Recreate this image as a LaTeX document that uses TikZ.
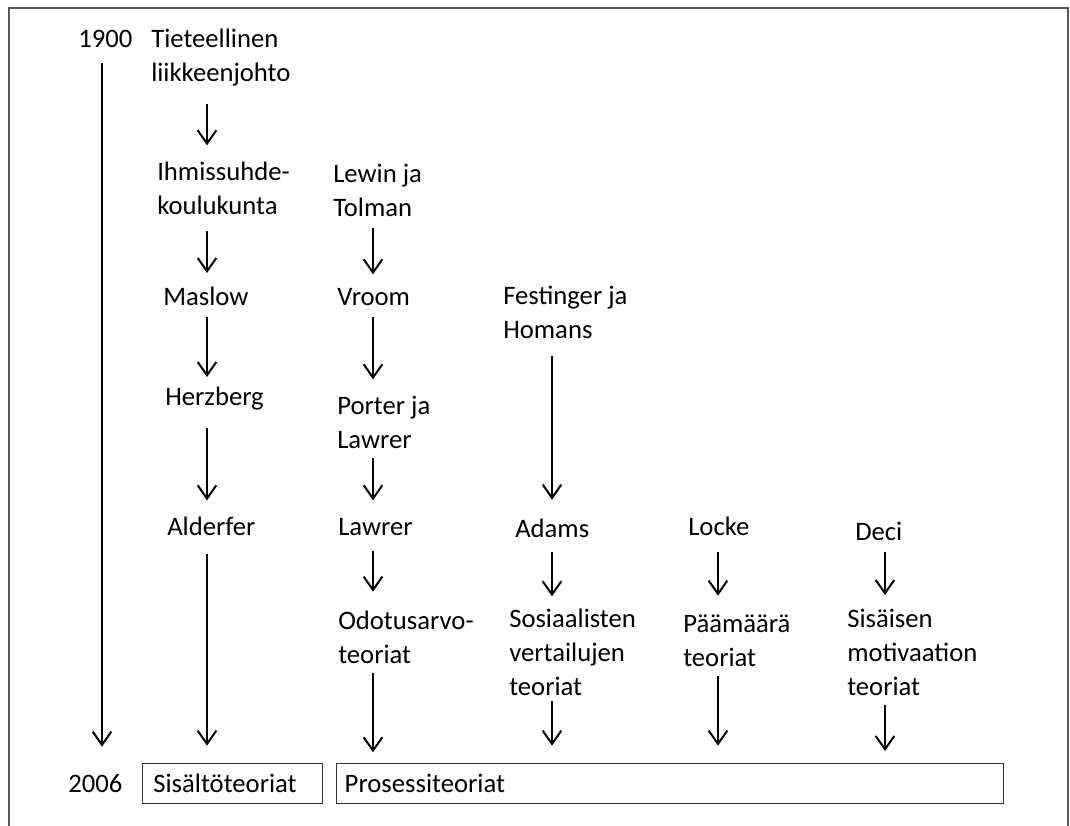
\documentclass[tikz,border=0pt]{standalone}
\usepackage{fontspec}
\setmainfont{Carlito}
\usetikzlibrary{arrows.meta}

\begin{document}
\begin{tikzpicture}[x=0.75pt,y=-0.75pt,
    lbl/.style={anchor=north west, inner sep=0pt, align=left,
      font=\fontsize{20}{25.5}\selectfont,
      execute at begin node=\strut, execute at end node=\strut},
    arr/.style={-{Straight Barb[length=10pt,width=14pt,line width=1.5pt]}, line width=1.5pt},
    era/.style={draw=black!80, line width=1.1pt, anchor=north west, inner ysep=0pt,
      minimum height=30pt, font=\fontsize{20}{25.5}\selectfont}]
  \useasboundingbox (0,0) rectangle (1070,825);
  % frame
  \draw [black!65, line width=1.5pt] (9,830) -- (9,8) -- (1068,8) -- (1068,830);

  % columns
  \coordinate (c0) at (102,0);
  \coordinate (c1) at (207,0);
  \coordinate (c2) at (373,0);
  \coordinate (c3) at (552,0);
  \coordinate (c4) at (718,0);
  \coordinate (c5) at (885,0);

  % years
  \node [lbl] (y1900) at (78,23) {1900};
  \node [lbl] (y2006) at (68,768) {2006};

  % content theories
  \node [lbl] (tiet) at (151,29) {Tieteellinen\\liikkeenjohto};
  \node [lbl] (ihm) at (157,162) {Ihmissuhde-\\koulukunta};
  \node [lbl] (maslow) at (163,281) {Maslow};
  \node [lbl] (herz) at (165,381) {Herzberg};
  \node [lbl] (alder) at (167,511) {Alderfer};

  % expectancy
  \node [lbl] (lewin) at (333,164) {Lewin ja\\Tolman};
  \node [lbl] (vroom) at (337,281) {Vroom};
  \node [lbl] (porter) at (337,396) {Porter ja\\Lawrer};
  \node [lbl] (lawrer) at (338,511) {Lawrer};
  \node [lbl] (odotus) at (338,611) {Odotusarvo-\\teoriat};

  % equity
  \node [lbl] (fest) at (503,286) {Festinger ja\\Homans};
  \node [lbl] (adams) at (515,513) {Adams};
  \node [lbl] (sosi) at (509,609) {Sosiaalisten\\vertailujen\\teoriat};

  % goals
  \node [lbl] (locke) at (688,511) {Locke};
  \node [lbl] (paa) at (683,615) {Päämäärä\\teoriat};

  % intrinsic
  \node [lbl] (deci) at (855,516) {Deci};
  \node [lbl] (sis) at (847,609) {Sisäisen\\motivaation\\teoriat};

  % result boxes
  \node [era, inner xsep=8pt, text width=119pt] (sisalto) at (142,763) {Sisältöteoriat};
  \node [era, inner xsep=6pt, text width=488pt] (prosessi) at (336,763) {Prosessiteoriat};

  % timeline
  \draw [arr, shorten <=4pt, shorten >=16pt] (y1900.south -| c0) -- (y2006.north -| c0);

  \draw [arr, shorten <=9pt, shorten >=12.5pt] (tiet.south -| c1) -- (ihm.north -| c1);
  \draw [arr, shorten <=4pt, shorten >=6pt] (ihm.south -| c1) -- (maslow.north -| c1);
  \draw [arr, shorten <=1pt, shorten >=3pt] (maslow.south -| c1) -- (herz.north -| c1);
  \draw [arr, shorten <=9pt, shorten >=8pt] (herz.south -| c1) -- (alder.north -| c1);
  \draw [arr, shorten <=6pt, shorten >=13pt] (alder.south -| c1) -- (sisalto.north -| c1);

  \draw [arr, shorten <=1pt, shorten >=5pt] (lewin.south -| c2) -- (vroom.north -| c2);
  \draw [arr, shorten <=1pt, shorten >=12.5pt] (vroom.south -| c2) -- (porter.north -| c2);
  \draw [arr, shorten <=-1pt, shorten >=8pt] (porter.south -| c2) -- (lawrer.north -| c2);
  \draw [arr, shorten >=14.5pt] ([yshift=-4pt]lawrer.south -| c2) -- (odotus.north -| c2);
  \draw [arr, shorten <=-1pt, shorten >=8pt] (odotus.south -| c2) -- (prosessi.north -| c2);

  \draw [arr, shorten <=5pt, shorten >=10pt] (fest.south -| c3) -- (adams.north -| c3);
  \draw [arr, shorten >=9.5pt] ([yshift=-3pt]adams.south -| c3) -- (sosi.north -| c3);
  \draw [arr, shorten <=-4pt, shorten >=13pt] (sosi.south -| c3) -- (prosessi.north -| c3);

  \draw [arr, shorten >=14.5pt] ([yshift=-5pt]locke.south -| c4) -- (paa.north -| c4);
  \draw [arr, shorten <=-1pt, shorten >=13pt] (paa.south -| c4) -- (prosessi.north -| c4);

  \draw [arr, shorten >=10.5pt] ([yshift=-1pt]deci.south -| c5) -- (sis.north -| c5);
  \draw [arr, shorten <=-1pt, shorten >=9pt] (sis.south -| c5) -- (prosessi.north -| c5);
\end{tikzpicture}
\end{document}
